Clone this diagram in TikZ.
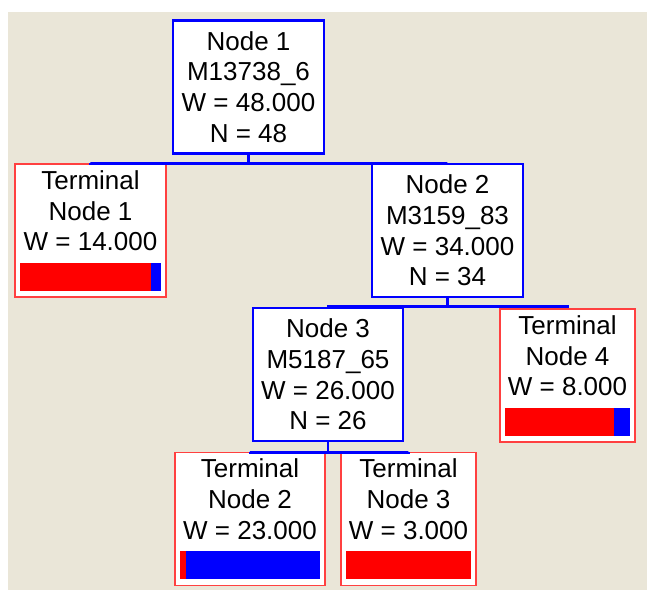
\documentclass[tikz,border=0pt]{standalone}
\usepackage{fontspec}
\setmainfont{Liberation Sans}
\usetikzlibrary{calc}

\definecolor{panel}{RGB}{234,230,216}
\definecolor{splitblue}{RGB}{0,0,255}
\definecolor{termred}{RGB}{255,64,64}
\definecolor{barred}{RGB}{255,0,0}

\tikzset{
  split/.style={draw=splitblue, line width=2.5pt, fill=white, align=center,
    minimum width=151pt, minimum height=133pt, inner sep=0pt,
    font=\fontsize{26}{30.6}\selectfont},
  terminal/.style={split, draw=termred, line width=1.6pt},
  edge/.style={draw=splitblue, line width=2.6pt}
}

% bar of a terminal node: node name, red share
\newcommand{\classbar}[2]{%
  \fill[splitblue] ($(#1.south west)+(6,-7)$) rectangle ($(#1.south east)+(-6,-35)$);
  \fill[barred] ($(#1.south west)+(6,-7)$) rectangle
    ($(#1.south west)!#2!(#1.south east)+({6-12*#2},-35)$);
}

\begin{document}
\begin{tikzpicture}[x=1pt, y=-1pt]

    % Fondo
    \fill[white] (0,0) rectangle (647,590);
    \fill[panel] (8,12) rectangle (647,590);
    \useasboundingbox (0,0) rectangle (647,590);

    % Nodos
    \node[split] (n1) at (248.5,87) {Node 1\\M13738\_6\\W = 48.000\\N = 48};
    \node[terminal] (t1) at (90.5,230.5) {Terminal\\Node 1\\W = 14.000\\\strut};
    \node[split] (n2) at (447.5,230.5) {Node 2\\M3159\_83\\W = 34.000\\N = 34};
    \node[split, minimum width=150pt] (n3) at (328,374.5) {Node 3\\M5187\_65\\W = 26.000\\N = 26};
    \node[terminal, minimum width=135pt] (t4) at (567.5,375.5) {Terminal\\Node 4\\W = 8.000\\\strut};
    \node[terminal, minimum width=150pt] (t2) at (250,519) {Terminal\\Node 2\\W = 23.000\\\strut};
    \node[terminal, minimum width=135pt] (t3) at (408.5,519) {Terminal\\Node 3\\W = 3.000\\\strut};

    % Conexiones
    \draw[edge] (n1.south) -- ++(0,9) coordinate (b1);
    \draw[edge] (b1) -| (t1.north);
    \draw[edge] (b1) -| (n2.north);
    \draw[edge] (n2.south) -- ++(0,8) coordinate (b2);
    \draw[edge] (b2) -| (n3.north);
    \draw[edge] (b2) -| (t4.north);
    \draw[edge] (n3.south) -- ++(0,10) coordinate (b3);
    \draw[edge] (b3) -| (t2.north);
    \draw[edge] (b3) -| (t3.north);

    % Barras de clase
    \classbar{t1}{0.929}
    \classbar{t2}{0.043}
    \classbar{t3}{1}
    \classbar{t4}{0.875}

\end{tikzpicture}
\end{document}
